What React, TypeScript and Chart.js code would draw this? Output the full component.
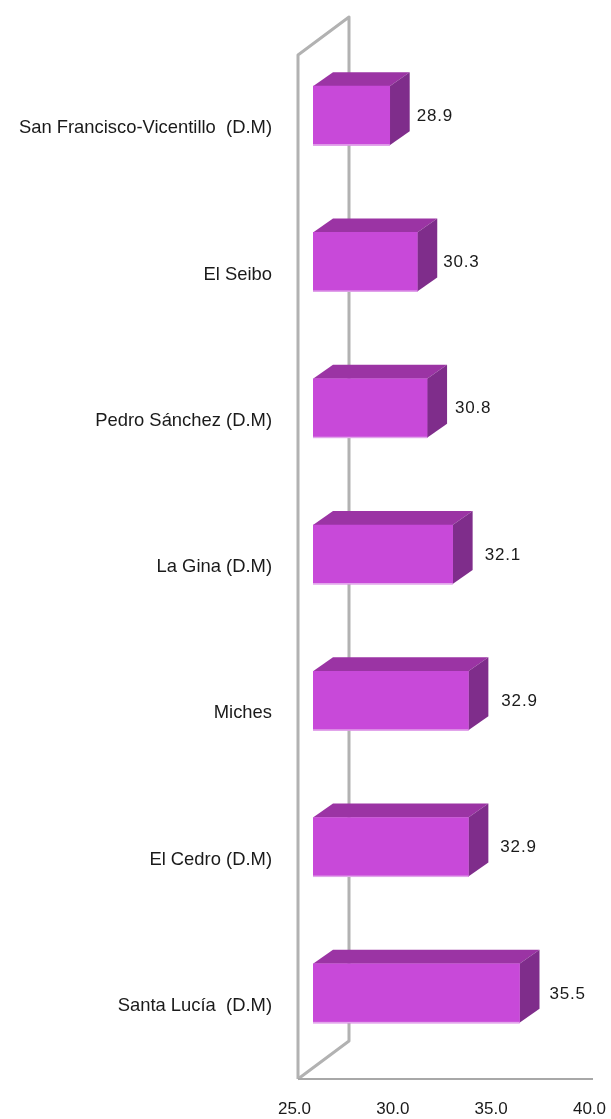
import React, { useEffect, useRef } from "react";
import { Chart, registerables } from "chart.js";

Chart.register(...registerables);

const categories = [
  "San Francisco-Vicentillo  (D.M)",
  "El Seibo",
  "Pedro Sánchez (D.M)",
  "La Gina (D.M)",
  "Miches",
  "El Cedro (D.M)",
  "Santa Lucía  (D.M)",
];
const values = [28.9, 30.3, 30.8, 32.1, 32.9, 32.9, 35.5];
const axisMin = 25;
const axisMax = 40;
const axisStep = 5;

const FRONT = "#C849D9";
const TOP = "#9B34A4";
const SIDE = "#7F2D8B";
const EDGE = "#E2A6EB";
const WALL = "#B2B2B2";
const TEXT = "#1a1a1a";

const frontDx = 15;
const frontDy = -12.5;
const depthDx = 20;
const depthDy = -14;
const wallDx = 51;
const wallDy = -38;
const labelGaps = [27, 26, 28, 32, 33, 32, 30];

const wallsPlugin = {
  id: "walls",
  beforeDatasetsDraw(chart: any) {
    const { ctx, chartArea: a } = chart;
    ctx.save();
    ctx.strokeStyle = WALL;
    ctx.lineWidth = 3;
    ctx.lineJoin = "round";
    ctx.beginPath();
    ctx.moveTo(a.left, a.bottom);
    ctx.lineTo(a.left, a.top);
    ctx.lineTo(a.left + wallDx, a.top + wallDy);
    ctx.lineTo(a.left + wallDx, a.bottom + wallDy);
    ctx.lineTo(a.left, a.bottom);
    ctx.stroke();
    ctx.lineWidth = 2;
    ctx.strokeStyle = "#A8A8A8";
    ctx.beginPath();
    ctx.moveTo(a.left, a.bottom);
    ctx.lineTo(a.right, a.bottom);
    ctx.stroke();
    ctx.restore();
  },
};

const bar3dPlugin = {
  id: "bar3d",
  beforeDatasetDraw(chart: any, args: any) {
    const { ctx } = chart;
    const meta = chart.getDatasetMeta(args.index);
    const base = chart.scales.x.getPixelForValue(axisMin);
    ctx.save();
    ctx.translate(frontDx, frontDy);
    meta.data.forEach((bar: any) => {
      const { x, y, height } = bar.getProps(["x", "y", "height"], true);
      const t = y - height / 2;
      const b = y + height / 2;
      ctx.fillStyle = TOP;
      ctx.beginPath();
      ctx.moveTo(base, t);
      ctx.lineTo(base + depthDx, t + depthDy);
      ctx.lineTo(x + depthDx, t + depthDy);
      ctx.lineTo(x, t);
      ctx.closePath();
      ctx.fill();
      ctx.fillStyle = SIDE;
      ctx.beginPath();
      ctx.moveTo(x, t);
      ctx.lineTo(x + depthDx, t + depthDy);
      ctx.lineTo(x + depthDx, b + depthDy);
      ctx.lineTo(x, b);
      ctx.closePath();
      ctx.fill();
    });
  },
  afterDatasetDraw(chart: any, args: any) {
    const { ctx } = chart;
    const meta = chart.getDatasetMeta(args.index);
    const base = chart.scales.x.getPixelForValue(axisMin);
    meta.data.forEach((bar: any) => {
      const { x, y, height } = bar.getProps(["x", "y", "height"], true);
      ctx.fillStyle = EDGE;
      ctx.fillRect(base, y + height / 2 - 1, x - base, 1.5);
    });
    ctx.restore();
    ctx.save();
    ctx.fillStyle = TEXT;
    ctx.font = '17px "Liberation Sans"';
    ctx.letterSpacing = "0.8px";
    ctx.textAlign = "left";
    ctx.textBaseline = "middle";
    meta.data.forEach((bar: any, i: number) => {
      const { x, y } = bar.getProps(["x", "y"], true);
      ctx.fillText(values[i].toFixed(1), x + frontDx + labelGaps[i], y + frontDy + 0.5);
    });
    ctx.restore();
  },
};

export default function App() {
  const ref = useRef<HTMLCanvasElement>(null);
  useEffect(() => {
    const chart = new Chart(ref.current as HTMLCanvasElement, {
      type: "bar",
      data: {
        labels: categories,
        datasets: [
          {
            data: values,
            backgroundColor: FRONT,
            borderWidth: 0,
            barThickness: 59,
          },
        ],
      },
      options: {
        indexAxis: "y",
        animation: false,
        responsive: false,
        layout: { padding: { top: 55, right: 18, left: 0, bottom: 0 } },
        plugins: { legend: { display: false }, tooltip: { enabled: false } },
        scales: {
          x: {
            type: "linear",
            min: axisMin,
            max: axisMax,
            ticks: {
              stepSize: axisStep,
              callback: (v: any) => Number(v).toFixed(1),
              color: TEXT,
              font: { family: "Liberation Sans", size: 17 },
              padding: 12,
              labelOffset: -3.5,
              maxRotation: 0,
            },
            grid: { display: false },
            border: { display: false },
            afterFit: (s: any) => {
              s.height = 40;
              s.paddingLeft = 0;
              s.paddingRight = 0;
            },
          },
          y: {
            type: "category",
            ticks: {
              color: TEXT,
              font: { family: "Liberation Sans", size: 18.4 },
              padding: 26,
              autoSkip: false,
            },
            grid: { display: false, drawTicks: false },
            border: { display: false },
            afterFit: (s: any) => {
              s.width = 298;
            },
          },
        },
      },
      plugins: [wallsPlugin, bar3dPlugin],
    } as any);
    return () => chart.destroy();
  }, []);
  return (
    <canvas
      ref={ref}
      width={611}
      height={1119}
      style={{ position: "absolute", left: 0, top: 0, width: 611, height: 1119, display: "block" }}
    />
  );
}
